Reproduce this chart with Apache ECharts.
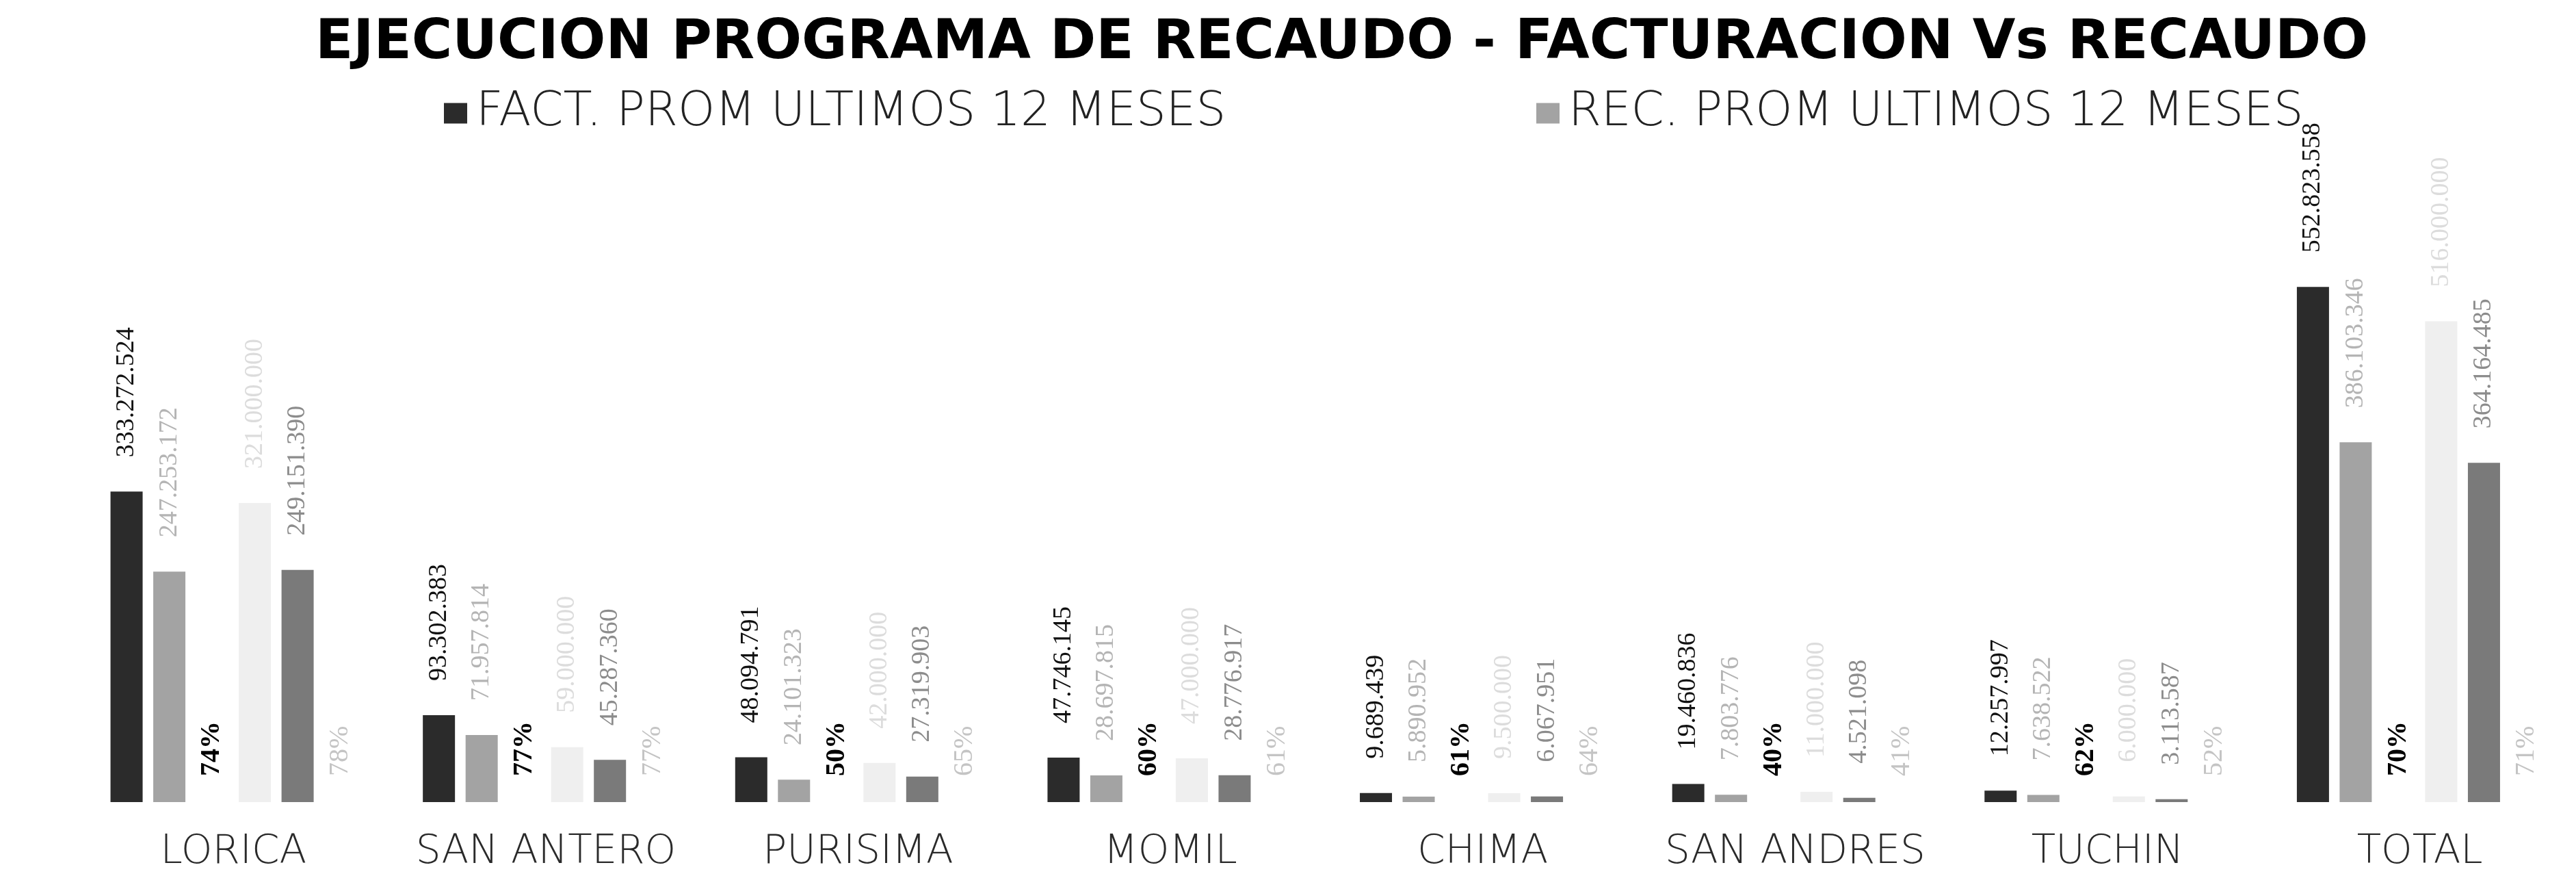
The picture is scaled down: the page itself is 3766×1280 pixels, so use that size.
<!DOCTYPE html>
<html>
<head>
<meta charset="utf-8">
<title>Ejecucion programa de recaudo</title>
<script src="https://cdn.jsdelivr.net/npm/echarts@6/dist/echarts.min.js"></script>
<style>
  html, body { margin: 0; padding: 0; background: #fff; }
  #chart { width: 3766px; height: 1280px; }
</style>
</head>
<body>
<div id="chart"></div>
<script>
// municipios
const categories = ["LORICA", "SAN ANTERO", "PURISIMA", "MOMIL", "CHIMA", "SAN ANDRES", "TUCHIN", "TOTAL"];
// facturacion promedio ultimos 12 meses
const factProm = [333272524, 93302383, 48094791, 47746145, 9689439, 19460836, 12257997, 552823558];
// recaudo promedio ultimos 12 meses
const recProm = [247253172, 71957814, 24101323, 28697815, 5890952, 7803776, 7638522, 386103346];
// % recaudo / facturacion
const pctProm = [74, 77, 50, 60, 61, 40, 62, 70];
// barras claras del periodo (casi ilegibles en el original)
const factPeriodo = [321000000, 59000000, 42000000, 47000000, 9500000, 11000000, 6000000, 516000000];
const recPeriodo = [249151390, 45287360, 27319903, 28776917, 6067951, 4521098, 3113587, 364164485];
const pctPeriodo = [78, 77, 65, 61, 64, 41, 52, 71];

const serieFact = "FACT. PROM ULTIMOS 12 MESES";
const serieRec = "REC. PROM ULTIMOS 12 MESES";

function miles(n) {
  return String(n).replace(/\B(?=(\d{3})+(?!\d))/g, ".");
}

function valueLabel(color) {
  return {
    show: true,
    position: "top",
    rotate: 90,
    align: "left",
    verticalAlign: "middle",
    distance: 50,
    color: color,
    fontFamily: "Liberation Serif",
    fontSize: 38,
    formatter: (p) => miles(p.value)
  };
}

function pctLabel(color, weight) {
  return {
    show: true,
    position: "insideBottom",
    rotate: 90,
    align: "left",
    verticalAlign: "middle",
    distance: 38,
    color: color,
    fontFamily: "Liberation Serif",
    fontWeight: weight,
    fontSize: 40,
    formatter: (p) => p.value + "%"
  };
}

const legendText = { fontFamily: "DejaVu Sans", fontWeight: 200, fontSize: 69, color: "#222", padding: [0, 0, 0, 8] };

const chart = echarts.init(document.getElementById("chart"));

chart.setOption({
  backgroundColor: "#ffffff",
  animation: false,
  title: {
    text: "EJECUCION PROGRAMA DE RECAUDO - FACTURACION Vs RECAUDO",
    left: 456,
    top: 18,
    textStyle: {
      fontFamily: "DejaVu Sans",
      fontWeight: "bold",
      fontSize: 81,
      color: "#000"
    }
  },
  legend: [
    {
      data: [serieFact],
      icon: "rect",
      left: 644,
      top: 126,
      itemWidth: 34,
      itemHeight: 30,
      textStyle: legendText
    },
    {
      data: [serieRec],
      icon: "rect",
      left: 2241,
      top: 126,
      itemWidth: 34,
      itemHeight: 30,
      textStyle: legendText
    }
  ],
  grid: {
    left: 113,
    right: -66,
    top: 355,
    bottom: 108
  },
  xAxis: {
    type: "category",
    data: categories,
    axisLine: { show: false },
    axisTick: { show: false },
    axisLabel: {
      interval: 0,
      margin: 45,
      fontFamily: "DejaVu Sans",
      fontWeight: 200,
      fontSize: 58,
      color: "#2a2a2a"
    }
  },
  yAxis: {
    type: "value",
    min: 0,
    max: 600000000,
    show: false,
    splitLine: { show: false }
  },
  series: [
    {
      name: serieFact,
      type: "bar",
      barWidth: 47,
      barGap: "33%",
      data: factProm,
      itemStyle: { color: "#2b2b2b" },
      label: valueLabel("#111")
    },
    {
      name: serieRec,
      type: "bar",
      barWidth: 47,
      data: recProm,
      itemStyle: { color: "#a3a3a3" },
      label: valueLabel("#b4b4b4")
    },
    {
      name: "% REC",
      type: "bar",
      barWidth: 47,
      data: pctProm,
      itemStyle: { color: "transparent" },
      label: pctLabel("#000", "bold")
    },
    {
      name: "FACT. PERIODO",
      type: "bar",
      barWidth: 47,
      data: factPeriodo,
      itemStyle: { color: "#efefef" },
      label: valueLabel("#dcdcdc")
    },
    {
      name: "REC. PERIODO",
      type: "bar",
      barWidth: 47,
      data: recPeriodo,
      itemStyle: { color: "#7a7a7a" },
      label: valueLabel("#8c8c8c")
    },
    {
      name: "% PERIODO",
      type: "bar",
      barWidth: 47,
      data: pctPeriodo,
      itemStyle: { color: "transparent" },
      label: pctLabel("#c4c4c4", "normal")
    }
  ]
});
</script>
</body>
</html>
